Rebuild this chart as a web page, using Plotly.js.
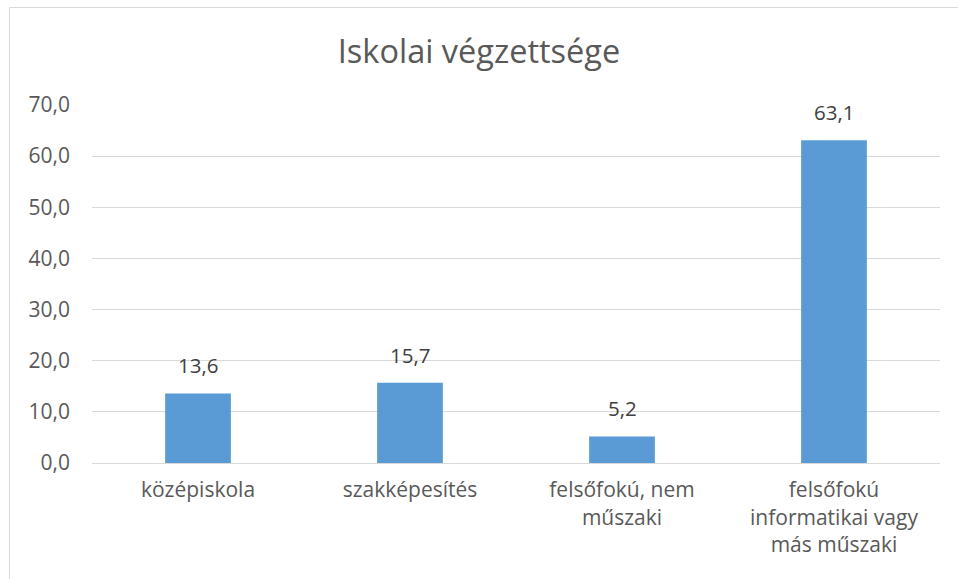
<!DOCTYPE html>
<html><head><meta charset="utf-8">
<script src="https://cdn.plot.ly/plotly-3.0.1.min.js"></script>
<style>body{margin:0;background:#fff}#c{width:958px;height:579px}</style>
</head><body><div id="c"></div>
<script>
const categories = ["középiskola", "szakképesítés", "felsőfokú, nem<br>műszaki", "felsőfokú<br>informatikai vagy<br>más műszaki"];
const values = [13.6, 15.7, 5.2, 63.1];
const yTicks = [0, 10, 20, 30, 40, 50, 60, 70];

const font = "Open Sans, sans-serif";
const labels = categories.map((c, i) => ({
  x: c, y: values[i], xref: 'x', yref: 'y',
  text: values[i].toFixed(1).replace('.', ','),
  showarrow: false, yanchor: 'bottom', yshift: 12,
  font: {family: font, size: 20.5, color: '#404040'}
}));
Plotly.newPlot('c', [{
  type: 'bar', x: categories, y: values,
  marker: {color: '#5B9BD5'},
  hoverinfo: 'none'
}], {
  width: 958, height: 579,
  separators: ',.',
  margin: {l: 92, r: 18, t: 105, b: 116},
  paper_bgcolor: '#fff', plot_bgcolor: '#fff',
  bargap: 0.69,
  title: {text: 'Iskolai végzettsége', font: {family: font, size: 32.5, color: '#595959'}, x: 0.5, xanchor: 'center', y: 0.91, yanchor: 'middle'},
  xaxis: {tickfont: {family: font, size: 21, color: '#595959'}, showgrid: false, showline: true, linecolor: '#d9d9d9', linewidth: 1, ticks: '', ticklabelstandoff: 8},
  yaxis: {range: [0, 70], tickvals: yTicks, tickformat: '.1f', tickfont: {family: font, size: 21, color: '#595959'}, gridcolor: '#d9d9d9', gridwidth: 1, zeroline: false, showline: false, ticks: '', ticklabelstandoff: 21},
  annotations: labels,
  shapes: [{type: 'rect', xref: 'paper', yref: 'paper', x0: -82.5/848, x1: 1.2, y0: -0.5, y1: 1 + 97.5/358, line: {color: '#d9d9d9', width: 1}, fillcolor: 'rgba(0,0,0,0)', layer: 'below'}],
  showlegend: false
}, {displayModeBar: false, staticPlot: true});
</script></body></html>
